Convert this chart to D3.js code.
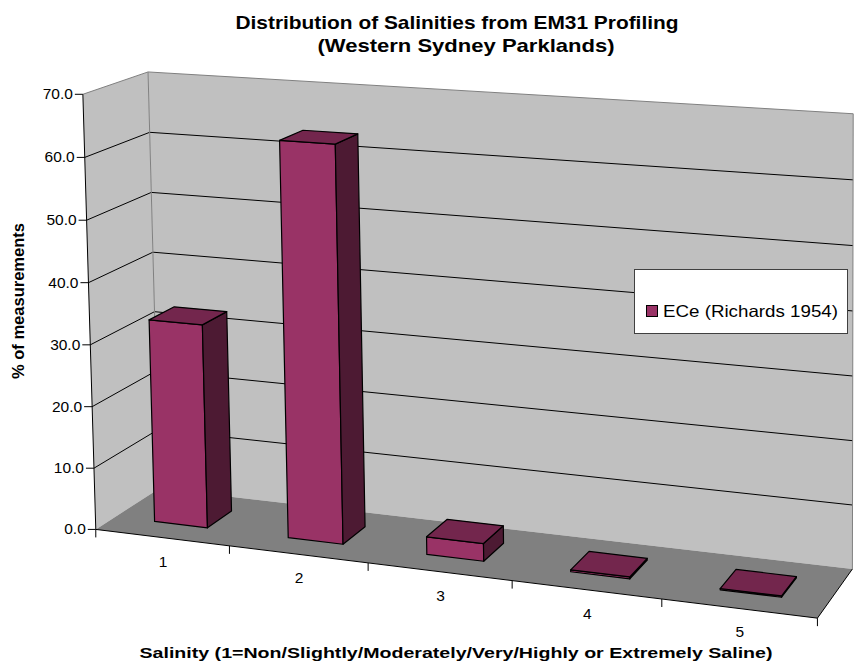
<!DOCTYPE html>
<html lang="en">
  <head>
    <meta charset="UTF-8" />
    <title>Distribution of Salinities</title>
    <script src="https://d3js.org/d3.v7.min.js"></script>
    <style>
      body {
        margin: 0;
        background-color: #fff;
        font-family: "Liberation Sans", Arial, sans-serif;
      }
    </style>
  </head>
  <body>
    <div id="chart"></div>
    <script>
      // data
      const categories = ["1", "2", "3", "4", "5"];
      const values = [33.0, 63.4, 2.8, 0.3, 0.2];
      const seriesName = "ECe (Richards 1954)";
      const yMax = 70;

      const width = 855;
      const height = 667;

      // screen spots of the plot box corners, used to fit the 3D camera
      // world: x = category units [0,5], y = value/10 [0,7], z = depth [0,1]
      const calib = [
        [[0, 0, 0], [98, 528]],
        [[5, 0, 0], [817, 620]],
        [[5, 0, 1], [853, 567]],
        [[0, 0, 1], [157, 490]],
        [[0, 7, 1], [150, 72]],
        [[5, 7, 1], [853, 114]],
        [[0, 7, 0], [81, 94]],
      ];

      function fitCamera(pairs) {
        const A = [];
        const b = [];
        pairs.forEach(([[X, Y, Z], [u, v]]) => {
          A.push([X, Y, Z, 1, 0, 0, 0, 0, -u * X, -u * Y, -u * Z]);
          b.push(u);
          A.push([0, 0, 0, 0, X, Y, Z, 1, -v * X, -v * Y, -v * Z]);
          b.push(v);
        });
        const n = 11;
        // normal equations
        const M = [];
        for (let i = 0; i < n; i++) {
          const row = [];
          for (let j = 0; j < n; j++) {
            let s = 0;
            for (let k = 0; k < A.length; k++) s += A[k][i] * A[k][j];
            row.push(s);
          }
          let s = 0;
          for (let k = 0; k < A.length; k++) s += A[k][i] * b[k];
          row.push(s);
          M.push(row);
        }
        // gauss elimination
        for (let c = 0; c < n; c++) {
          let piv = c;
          for (let r = c + 1; r < n; r++)
            if (Math.abs(M[r][c]) > Math.abs(M[piv][c])) piv = r;
          [M[c], M[piv]] = [M[piv], M[c]];
          for (let r = 0; r < n; r++) {
            if (r === c) continue;
            const f = M[r][c] / M[c][c];
            for (let k = c; k <= n; k++) M[r][k] -= f * M[c][k];
          }
        }
        return M.map((row, i) => row[n] / row[i]);
      }

      const p = fitCamera(calib);
      function proj(x, y, z) {
        const w = p[8] * x + p[9] * y + p[10] * z + 1;
        return [
          (p[0] * x + p[1] * y + p[2] * z + p[3]) / w,
          (p[4] * x + p[5] * y + p[6] * z + p[7]) / w,
        ];
      }

      const xBand = d3
        .scaleBand()
        .domain(categories)
        .range([0, 5])
        .paddingInner(0.6)
        .paddingOuter(0.3);
      const yScale = d3.scaleLinear().domain([0, yMax]).range([0, 7]);
      const zBar = [0.3, 0.7];
      const yTop = yScale(yMax);

      const svg = d3
        .select("#chart")
        .append("svg")
        .attr("width", width)
        .attr("height", height);

      const line = d3.line();
      function poly(pts) {
        return line(pts.map((d) => proj(...d))) + "Z";
      }
      function path(pts) {
        return line(pts.map((d) => proj(...d)));
      }

      // walls and floor
      svg.append("path")
        .attr("d", poly([[0, 0, 0], [0, yTop, 0], [0, yTop, 1], [0, 0, 1]]))
        .attr("fill", "#c0c0c0");
      svg.append("path")
        .attr("d", poly([[0, 0, 1], [0, yTop, 1], [5, yTop, 1], [5, 0, 1]]))
        .attr("fill", "#c0c0c0");
      svg.append("path")
        .attr("d", poly([[0, 0, 0], [5, 0, 0], [5, 0, 1], [0, 0, 1]]))
        .attr("fill", "#808080");

      // gridlines
      const ticks = yScale.ticks(7);
      svg.selectAll(".grid")
        .data(ticks.filter((t) => t > 0 && t < yMax))
        .enter()
        .append("path")
        .attr("class", "grid")
        .attr("d", (t) => {
          const y = yScale(t);
          return path([[0, y, 0], [0, y, 1], [5, y, 1]]);
        })
        .attr("fill", "none")
        .attr("stroke", "#000")
        .attr("stroke-width", 1);

      // wall edges
      svg.append("path")
        .attr("d", path([[0, yTop, 0], [0, yTop, 1], [5, yTop, 1], [5, 0, 1]]))
        .attr("fill", "none")
        .attr("stroke", "#808080");
      svg.append("path")
        .attr("d", path([[0, yTop, 1], [0, 0, 1]]))
        .attr("fill", "none")
        .attr("stroke", "#808080");
      svg.append("path")
        .attr("d", path([[5, 0, 1], [5, 0, 0], [0, 0, 0]]))
        .attr("fill", "none")
        .attr("stroke", "#000");

      // value axis
      svg.append("path")
        .attr("d", path([[0, 0, 0], [0, yTop, 0]]))
        .attr("fill", "none")
        .attr("stroke", "#000");
      const fmt = d3.format(".1f");
      const yt = svg.selectAll(".ytick").data(ticks).enter().append("g");
      yt.append("line")
        .attr("x1", (t) => proj(0, yScale(t), 0)[0] - 8)
        .attr("x2", (t) => proj(0, yScale(t), 0)[0])
        .attr("y1", (t) => proj(0, yScale(t), 0)[1])
        .attr("y2", (t) => proj(0, yScale(t), 0)[1])
        .attr("stroke", "#000");
      yt.append("text")
        .attr("x", (t) => proj(0, yScale(t), 0)[0] - 10)
        .attr("y", (t) => proj(0, yScale(t), 0)[1] + 5)
        .attr("text-anchor", "end")
        .attr("font-size", 15.5)
        .attr("fill", "#000")
        .text(fmt);

      // category axis ticks and labels
      const edges = d3.range(0, categories.length + 1);
      svg.selectAll(".xtick")
        .data(edges)
        .enter()
        .append("line")
        .attr("x1", (i) => proj(i, 0, 0)[0])
        .attr("x2", (i) => proj(i, 0, 0)[0])
        .attr("y1", (i) => proj(i, 0, 0)[1])
        .attr("y2", (i) => proj(i, 0, 0)[1] + 8)
        .attr("stroke", "#000");
      svg.selectAll(".xlab")
        .data(categories)
        .enter()
        .append("text")
        .attr("x", (c) => proj(xBand(c) + xBand.bandwidth() / 2, 0, 0)[0] + 1)
        .attr("y", (c) => proj(xBand(c) + xBand.bandwidth() / 2, 0, 0)[1] + 29)
        .attr("text-anchor", "middle")
        .attr("font-size", 15.5)
        .text((c) => c);

      // bars, drawn right to left
      const bars = categories.map((c, i) => ({ c, v: values[i] })).reverse();
      bars.forEach((d) => {
        const x0 = xBand(d.c);
        const x1 = x0 + xBand.bandwidth();
        const y = yScale(d.v);
        const [z0, z1] = zBar;
        const g = svg.append("g")
          .attr("stroke", "#000")
          .attr("stroke-width", 1.2)
          .attr("stroke-linejoin", "round");
        g.append("path")
          .attr("d", poly([[x0, 0, z0], [x1, 0, z0], [x1, y, z0], [x0, y, z0]]))
          .attr("fill", "#993366");
        g.append("path")
          .attr("d", poly([[x1, 0, z0], [x1, 0, z1], [x1, y, z1], [x1, y, z0]]))
          .attr("fill", "#4d1a33");
        g.append("path")
          .attr("d", poly([[x0, y, z0], [x1, y, z0], [x1, y, z1], [x0, y, z1]]))
          .attr("fill", "#73264d");
      });

      // legend
      const lg = svg.append("g");
      lg.append("rect")
        .attr("x", 634.5)
        .attr("y", 269.5)
        .attr("width", 213)
        .attr("height", 64)
        .attr("fill", "#fff")
        .attr("stroke", "#404040");
      lg.append("rect")
        .attr("x", 646.5)
        .attr("y", 305.5)
        .attr("width", 11)
        .attr("height", 11)
        .attr("fill", "#993366")
        .attr("stroke", "#000");
      lg.append("text")
        .attr("x", 663)
        .attr("y", 317)
        .attr("font-size", 16.5)
        .attr("textLength", 175)
        .attr("lengthAdjust", "spacingAndGlyphs")
        .text(seriesName);

      // titles
      svg.append("text")
        .attr("x", 457)
        .attr("y", 29)
        .attr("text-anchor", "middle")
        .attr("font-size", 19)
        .attr("font-weight", "bold")
        .attr("textLength", 443)
        .attr("lengthAdjust", "spacingAndGlyphs")
        .text("Distribution of Salinities from EM31 Profiling");
      svg.append("text")
        .attr("x", 466)
        .attr("y", 52)
        .attr("text-anchor", "middle")
        .attr("font-size", 19)
        .attr("font-weight", "bold")
        .attr("textLength", 297)
        .attr("lengthAdjust", "spacingAndGlyphs")
        .text("(Western Sydney Parklands)");
      svg.append("text")
        .attr("transform", "translate(24,301) rotate(-90)")
        .attr("text-anchor", "middle")
        .attr("font-size", 16)
        .attr("font-weight", "bold")
        .attr("textLength", 156)
        .attr("lengthAdjust", "spacingAndGlyphs")
        .text("% of measurements");
      svg.append("text")
        .attr("x", 456)
        .attr("y", 658)
        .attr("text-anchor", "middle")
        .attr("font-size", 15.5)
        .attr("font-weight", "bold")
        .attr("textLength", 633)
        .attr("lengthAdjust", "spacingAndGlyphs")
        .text("Salinity (1=Non/Slightly/Moderately/Very/Highly or Extremely Saline)");
    </script>
  </body>
</html>
